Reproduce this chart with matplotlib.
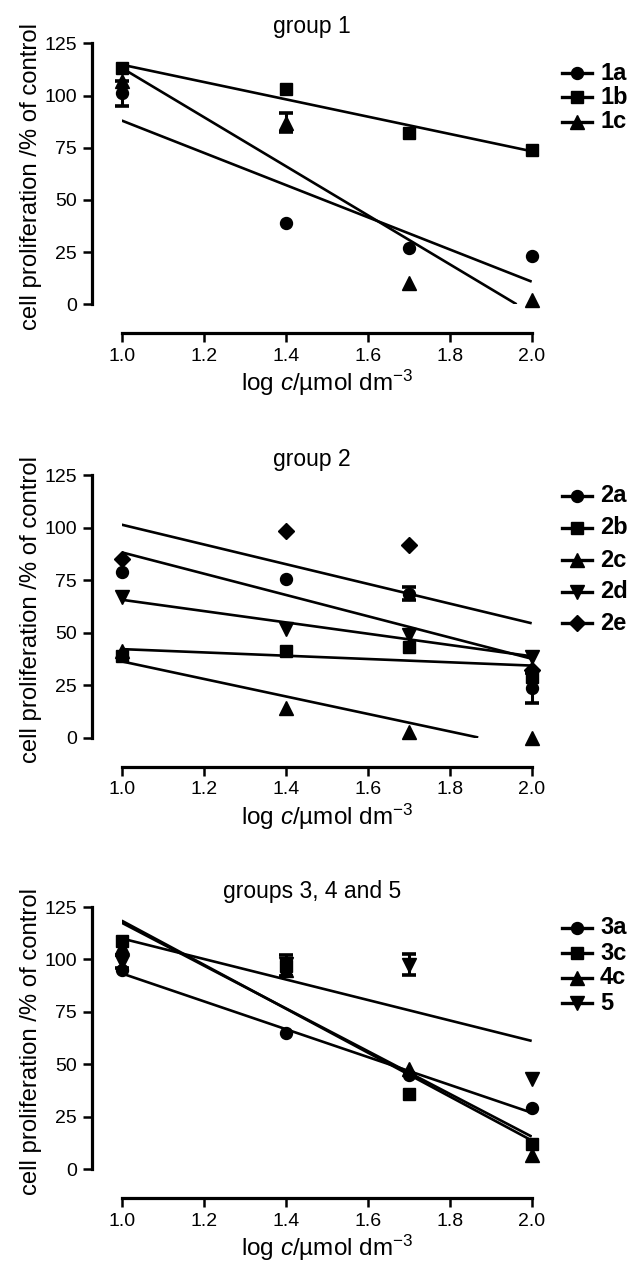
import numpy as np
import matplotlib
matplotlib.use("Agg")
import matplotlib.pyplot as plt
from matplotlib.lines import Line2D
from matplotlib.ticker import FormatStrFormatter

plt.rcParams['font.family'] = ['Liberation Sans', 'DejaVu Sans']
plt.rcParams['mathtext.fontset'] = 'custom'
plt.rcParams['mathtext.rm'] = 'Liberation Sans'
plt.rcParams['mathtext.it'] = 'Liberation Sans:italic'
plt.rcParams['mathtext.bf'] = 'Liberation Sans:bold'

# ---------------- data ----------------
log_c = [1.0, 1.4, 1.7, 2.0]
x_ticks = [1.0, 1.2, 1.4, 1.6, 1.8, 2.0]
y_ticks = [0, 25, 50, 75, 100, 125]
titles = ["group 1", "group 2", "groups 3, 4 and 5"]

# group 1
v_1a = [101, 39, 27, 23];    e_1a = [6, 0, 0, 0]
v_1b = [113, 103, 82, 74];   e_1b = [0, 0, 0, 0]
v_1c = [107, 87, 10, 2];     e_1c = [0, 4.4, 0, 0]
# group 2
v_2a = [79, 75.5, 68.5, 23.5]; e_2a = [0, 0, 3, 7]
v_2b = [39, 41, 43, 29];       e_2b = [0, 0, 0, 0]
v_2c = [41, 14, 2.5, 0];       e_2c = [0, 0, 0, 0]
v_2d = [67, 51.5, 49, 38.5];   e_2d = [0, 0, 0, 0]
v_2e = [85, 98.5, 91.5, 32];   e_2e = [0, 0, 0, 0]
# groups 3, 4 and 5
v_3a = [95, 65, 45, 29];     e_3a = [0, 0, 0, 0]
v_3c = [109, 97, 36, 12];    e_3c = [0, 5, 0, 0]
v_4c = [106, 95, 48, 7];     e_4c = [0, 0, 0, 0]
v_5 = [99, 98, 97.5, 43];    e_5 = [3, 0, 5, 0]

panels = [
    [("1a", 'o', v_1a, e_1a), ("1b", 's', v_1b, e_1b), ("1c", '^', v_1c, e_1c)],
    [("2a", 'o', v_2a, e_2a), ("2b", 's', v_2b, e_2b), ("2c", '^', v_2c, e_2c),
     ("2d", 'v', v_2d, e_2d), ("2e", 'D', v_2e, e_2e)],
    [("3a", 'o', v_3a, e_3a), ("3c", 's', v_3c, e_3c), ("4c", '^', v_4c, e_4c),
     ("5", 'v', v_5, e_5)],
]

# ---------------- layout (pixels) ----------------
W, H = 639, 1266
fig = plt.figure(figsize=(W / 100, H / 100), dpi=100)

x_left_px, x_right_px = 121.7, 531.7
y125_px = [43.3, 475.2, 907.0]
y0_px = [304.3, 737.5, 1169.3]
title_base_px = [33, 466, 898]
legend_rows_px = [[73, 97, 122], [496, 528, 560, 592, 623], [928, 953, 978, 1003]]

marker_sizes = {'o': 8.6, 's': 8.4, '^': 9.6, 'v': 9.6, 'D': 7.8}

def fx(px):
    return px / W

def fy(py):
    return 1 - py / H

for p, series in enumerate(panels):
    ax = fig.add_axes([fx(x_left_px), fy(y0_px[p]),
                       (x_right_px - x_left_px) / W, (y0_px[p] - y125_px[p]) / H])
    ax.set_xlim(1.0, 2.0)
    ax.set_ylim(0, 125)
    for s in ['top', 'right']:
        ax.spines[s].set_visible(False)
    ax.spines['left'].set_position(('outward', 21.6))
    ax.spines['bottom'].set_position(('outward', 20.9))
    for s in ['left', 'bottom']:
        ax.spines[s].set_linewidth(2.3)
        ax.spines[s].set_capstyle('projecting')
    ax.set_xticks(x_ticks)
    ax.set_yticks(y_ticks)
    ax.xaxis.set_major_formatter(FormatStrFormatter('%.1f'))
    ax.tick_params(direction='out', length=6.2, width=1.8, labelsize=14, pad=4.5)
    ax.patch.set_visible(False)

    for label, m, v, e in series:
        xv = np.array(log_c)
        yv = np.array(v, dtype=float)
        ev = np.array(e, dtype=float)
        slope, intercept = np.polyfit(xv, yv, 1)
        x_end = 2.0
        if slope < 0:
            root = -intercept / slope
            if 1.0 < root < 2.0:
                x_end = root
        xs = np.array([1.0, x_end])
        ax.plot(xs, slope * xs + intercept, color='black', lw=1.9, zorder=2,
                solid_capstyle='butt')
        mask = ev > 0
        if mask.any():
            ax.errorbar(xv[mask], yv[mask], yerr=ev[mask], fmt='none', ecolor='black',
                        elinewidth=2.2, capsize=5.0, capthick=2.6, zorder=3, clip_on=False)
        ax.plot(xv, yv, linestyle='none', marker=m, ms=marker_sizes[m], color='black',
                zorder=4, clip_on=False)

    # title
    fig.text(fx(312), fy(title_base_px[p]), titles[p], ha='center', va='baseline',
             fontsize=16.5)
    # y label
    fig.text(fx(31), fy((y125_px[p] + y0_px[p]) / 2 + 3), "cell proliferation /% of control",
             rotation=90, ha='center', va='center', fontsize=17.2)
    # x label
    fig.text(fx(327), fy(y0_px[p] + 29 + 58), r"log $c$/µmol dm$^{-3}$",
             ha='center', va='baseline', fontsize=17.5)

    # legend
    for (label, m, v, e), ry in zip(series, legend_rows_px[p]):
        fig.add_artist(Line2D([fx(562), fx(592)], [fy(ry), fy(ry)], transform=fig.transFigure,
                              color='black', lw=2.4))
        fig.add_artist(Line2D([fx(577)], [fy(ry)], transform=fig.transFigure, marker=m,
                              ms=marker_sizes[m], color='black', linestyle='none'))
        fig.text(fx(600), fy(ry), label, ha='left', va='center', fontsize=17,
                 fontweight='bold')

fig.savefig("out.png", dpi=100)
